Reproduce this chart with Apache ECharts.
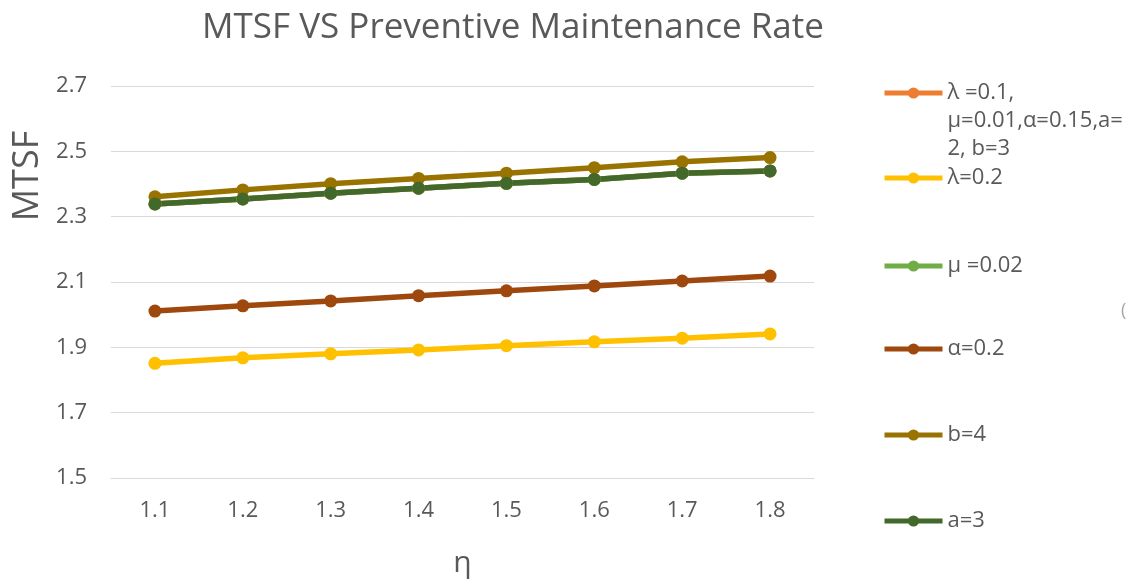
<!DOCTYPE html>
<html>
<head>
<meta charset="utf-8">
<script src="https://cdn.jsdelivr.net/npm/echarts@6/dist/echarts.min.js"></script>
<style>html,body{margin:0;padding:0;background:#fff}#c{width:1132px;height:579px}</style>
</head>
<body>
<div id="c"></div>
<script>
const categories = ['1.1','1.2','1.3','1.4','1.5','1.6','1.7','1.8'];
const yTickLabels = ['1.5','1.7','1.9','2.1','2.3','2.5','2.7'];
const seriesNames = ['λ =0.1, μ=0.01,α=0.15,a=2, b=3','λ=0.2','μ =0.02','α=0.2','b=4','a=3'];
const base   = [2.339, 2.354, 2.372, 2.387, 2.402, 2.414, 2.433, 2.440];
const lam02  = [1.851, 1.868, 1.880, 1.892, 1.905, 1.917, 1.928, 1.941];
const mu002  = [2.339, 2.354, 2.372, 2.387, 2.402, 2.414, 2.433, 2.440];
const alp02  = [2.011, 2.027, 2.042, 2.058, 2.073, 2.088, 2.103, 2.118];
const b4     = [2.361, 2.382, 2.401, 2.417, 2.433, 2.450, 2.468, 2.481];
const a3     = [2.339, 2.354, 2.372, 2.387, 2.402, 2.414, 2.433, 2.440];
const seriesData = [base, lam02, mu002, alp02, b4, a3];
const colors = ['#ED7D31','#FFC000','#70AD47','#9E480E','#997300','#43682B'];

const FONT = 'Open Sans';
const TXT = '#595959';
const legendTops = [93, 178, 266, 349, 435, 521];

const chart = echarts.init(document.getElementById('c'));
const legends = seriesNames.map((n, i) => ({
  orient: 'vertical',
  left: 882,
  top: i === 0 ? legendTops[i] - 70 : legendTops[i] - 14,
  padding: 0,
  itemWidth: 58,
  itemHeight: 14,
  data: [n],
  lineStyle: { width: 5 },
  formatter: i === 0 ? () => '\n\nλ =0.1,\nμ=0.01,α=0.15,a=\n2, b=3' : undefined,
  textStyle: { fontFamily: FONT, fontSize: 22, color: TXT, lineHeight: 28 }
}));

chart.setOption({
  animation: false,
  backgroundColor: '#fff',
  color: colors,
  title: {
    text: 'MTSF VS Preventive Maintenance Rate',
    left: 508, top: 6,
    textAlign: 'center',
    textStyle: { fontFamily: FONT, fontSize: 35, fontWeight: 'normal', color: TXT }
  },
  legend: legends,
  grid: { left: 111, right: 318, top: 86, bottom: 101, outerBoundsMode: 'none', containLabel: false },
  xAxis: {
    type: 'category',
    data: categories,
    boundaryGap: true,
    axisLine: { show: true, lineStyle: { color: '#d9d9d9', width: 1 } },
    axisTick: { show: false },
    axisLabel: { fontFamily: FONT, fontSize: 22, color: TXT, margin: 22 },
    name: 'η',
    nameLocation: 'middle',
    nameGap: 70,
    nameTextStyle: { fontFamily: FONT, fontSize: 30, color: TXT }
  },
  yAxis: [
    {
      type: 'value', min: 1.5, max: 2.7,
      show: false, splitLine: { show: false }
    },
    {
      type: 'category', data: yTickLabels, boundaryGap: false,
      position: 'left',
      axisLine: { show: false }, axisTick: { show: false },
      axisLabel: { fontFamily: FONT, fontSize: 22, color: TXT, margin: 24 },
      splitLine: { show: true, lineStyle: { color: '#d9d9d9', width: 1 } }
    }
  ],
  graphic: [
    {
      type: 'text', x: 28, y: 176, rotation: Math.PI / 2,
      style: { text: 'MTSF', fontFamily: FONT, fontSize: 36, fill: TXT, align: 'center', verticalAlign: 'middle' }
    },
    {
      type: 'text', x: 1121, y: 311,
      style: { text: '(', fontFamily: FONT, fontSize: 18, fill: '#a6a6a6', verticalAlign: 'middle' }
    }
  ],
  series: seriesNames.map((n, i) => ({
    name: n,
    type: 'line',
    yAxisIndex: 0,
    data: seriesData[i],
    symbol: 'circle',
    symbolSize: 13,
    lineStyle: { width: 5.5, color: colors[i] },
    itemStyle: { color: colors[i] }
  }))
});
</script>
</body>
</html>
